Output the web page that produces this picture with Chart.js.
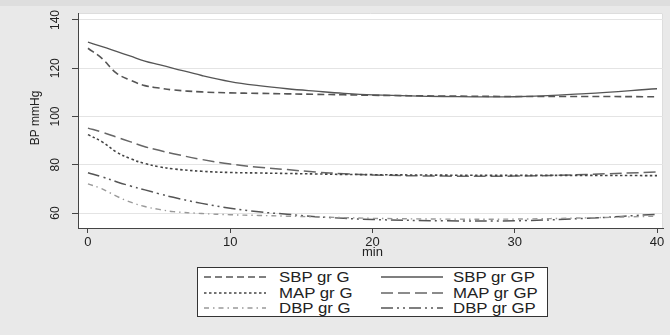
<!DOCTYPE html>
<html>
<head>
<meta charset="utf-8">
<script src="https://cdn.jsdelivr.net/npm/chart.js@4/dist/chart.umd.min.js"></script>
<style>
  html, body { margin: 0; padding: 0; background: #e9e9e9; }
  #wrap { position: relative; width: 670px; height: 335px; }
  #legend {
    position: absolute; left: 197px; top: 267px; width: 351px; height: 50px;
    border: 1px solid #333; background: #fff; box-sizing: border-box;
    font-family: "Liberation Sans", Arial, sans-serif; font-size: 14px; color: #222;
  }
  .item { position: absolute; height: 16px; line-height: 16px; }
  .item svg { position: absolute; left: 0; top: 0; }
  .item span { position: absolute; white-space: nowrap; transform: scaleX(1.2); transform-origin: left center; }
</style>
</head>
<body>
<div id="wrap">
  <canvas id="bpChart" width="670" height="335"></canvas>
  <div id="legend"></div>
</div>
<script>
const minutes = [0, 1, 2, 3, 4, 5, 6, 8, 10, 12, 14, 16, 18, 20, 25, 30, 35, 40];

const sbpG  = [128.3, 124, 118, 115, 112.8, 111.8, 111, 110.2, 109.8, 109.6, 109.4, 109.2, 109, 108.8, 108.5, 108.3, 108.3, 108.2];
const sbpGP = [130.8, 129, 127, 125, 123, 121.5, 120, 117, 114.5, 112.8, 111.5, 110.5, 109.6, 109, 108.3, 108.2, 109.5, 111.5];
const mapG  = [92.5, 89.5, 85.3, 82.5, 80.5, 79.2, 78.3, 77.3, 76.8, 76.6, 76.4, 76.2, 76, 75.9, 75.7, 75.6, 75.6, 75.5];
const mapGP = [95.2, 93.5, 91.5, 89.5, 87.5, 86, 84.6, 82.2, 80.3, 79, 78, 77, 76.3, 75.8, 75.3, 75.3, 76, 77];
const dbpG  = [72.1, 70, 67, 64.5, 62.7, 61.5, 60.6, 59.8, 59.3, 59, 58.7, 58.4, 58.1, 57.8, 57.5, 57.5, 58, 58.7];
const dbpGP = [76.7, 75, 73, 71.2, 69.6, 68, 66.5, 64, 62, 60.5, 59.5, 58.5, 57.8, 57.3, 56.8, 56.8, 57.8, 59.5];

const xTicks = [0, 10, 20, 30, 40];
const yTicks = [60, 80, 100, 120, 140];

const series = [
  { label: "SBP gr G",  data: sbpG,  color: "#555", width: 1.6, dash: [7, 4] },
  { label: "SBP gr GP", data: sbpGP, color: "#555", width: 1.3, dash: [] },
  { label: "MAP gr G",  data: mapG,  color: "#444", width: 1.6, dash: [2.5, 2.5] },
  { label: "MAP gr GP", data: mapGP, color: "#666", width: 1.5, dash: [12, 5] },
  { label: "DBP gr G",  data: dbpG,  color: "#999", width: 1.4, dash: [5, 4, 1.5, 4] },
  { label: "DBP gr GP", data: dbpGP, color: "#555", width: 1.5, dash: [12, 4, 2, 4, 2, 4] },
];

const font = '"Liberation Sans", Arial, sans-serif';

// white plot region, rotated y labels, axis titles
const stataLook = {
  id: "stataLook",
  beforeDraw(chart) {
    const { ctx, chartArea: a } = chart;
    ctx.save();
    ctx.fillStyle = "#dedede";
    ctx.fillRect(0, 0, chart.width, 6);
    ctx.fillStyle = "#fff";
    ctx.fillRect(a.left, a.top, a.right - a.left, a.bottom - a.top);
    ctx.strokeStyle = "#ddd";
    ctx.lineWidth = 1;
    ctx.beginPath();
    ctx.moveTo(a.left, a.top + 0.5);
    ctx.lineTo(a.right - 0.5, a.top + 0.5);
    ctx.lineTo(a.right - 0.5, a.bottom);
    ctx.stroke();
    ctx.restore();
  },
  afterDraw(chart) {
    const { ctx } = chart;
    const y = chart.scales.y;
    const x = chart.scales.x;
    ctx.save();
    ctx.fillStyle = "#222";
    ctx.font = "12px " + font;
    ctx.textAlign = "center";
    ctx.textBaseline = "middle";
    yTicks.forEach((v) => {
      ctx.save();
      ctx.translate(56, y.getPixelForValue(v));
      ctx.rotate(-Math.PI / 2);
      ctx.fillText(String(v), 0, 0);
      ctx.restore();
    });
    ctx.save();
    ctx.translate(36, 118);
    ctx.rotate(-Math.PI / 2);
    ctx.fillText("BP mmHg", 0, 0);
    ctx.restore();
    ctx.font = "13px " + font;
    ctx.fillText("min", x.getPixelForValue(20), 252);
    ctx.restore();
  },
};

new Chart(document.getElementById("bpChart"), {
  type: "line",
  data: {
    datasets: series.map((s) => ({
      label: s.label,
      data: minutes.map((m, i) => ({ x: m, y: s.data[i] })),
      borderColor: s.color,
      borderWidth: s.width,
      borderDash: s.dash,
      pointRadius: 0,
      tension: 0.4,
      fill: false,
    })),
  },
  options: {
    responsive: false,
    animation: false,
    layout: { padding: { top: 13, right: 7, left: 0, bottom: 0 } },
    plugins: { legend: { display: false }, tooltip: { enabled: false } },
    scales: {
      x: {
        type: "linear",
        min: -0.7,
        max: 40.42,
        afterBuildTicks: (scale) => { scale.ticks = xTicks.map((v) => ({ value: v })); },
        afterFit: (scale) => { scale.height = 107; },
        grid: { drawOnChartArea: false, tickLength: 5, color: "#444" },
        border: { color: "#444", width: 1 },
        ticks: { color: "#222", font: { family: font, size: 13 }, padding: 2, maxRotation: 0 },
      },
      y: {
        min: 53.8,
        max: 142.9,
        afterBuildTicks: (scale) => { scale.ticks = yTicks.map((v) => ({ value: v })); },
        afterFit: (scale) => { scale.width = 78; },
        grid: { color: "#e4e4e4", tickColor: "#444", tickLength: 6 },
        border: { color: "#444", width: 1 },
        ticks: { display: false },
      },
    },
  },
  plugins: [stataLook],
});

// legend: two columns, three rows
const legend = document.getElementById("legend");
series.forEach((s, i) => {
  const col = i % 2;
  const row = Math.floor(i / 2);
  const item = document.createElement("div");
  item.className = "item";
  item.style.left = (col === 0 ? 6 : 183) + "px";
  item.style.top = (1 + row * 15.5) + "px";
  item.innerHTML =
    `<svg width="62" height="16"><line x1="0" y1="8" x2="62" y2="8" stroke="${s.color}" stroke-width="${s.width}" stroke-dasharray="${s.dash.join(" ") || "none"}"/></svg>` +
    `<span style="left:${col === 0 ? 75 : 72}px">${s.label}</span>`;
  legend.appendChild(item);
});
</script>
</body>
</html>
